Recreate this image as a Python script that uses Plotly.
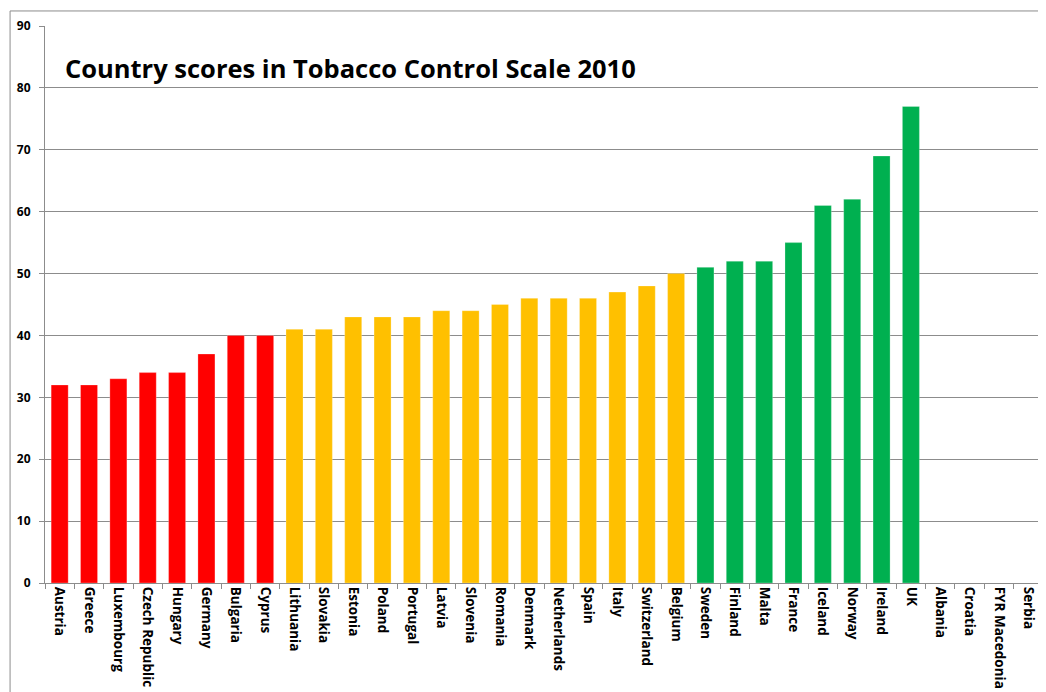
import plotly.graph_objects as go

countries = ["Austria", "Greece", "Luxembourg", "Czech Republic", "Hungary", "Germany",
             "Bulgaria", "Cyprus", "Lithuania", "Slovakia", "Estonia", "Poland", "Portugal",
             "Latvia", "Slovenia", "Romania", "Denmark", "Netherlands", "Spain", "Italy",
             "Switzerland", "Belgium", "Sweden", "Finland", "Malta", "France", "Iceland",
             "Norway", "Ireland", "UK", "Albania", "Croatia", "FYR Macedonia", "Serbia"]
scores = [32, 32, 33, 34, 34, 37, 40, 40, 41, 41, 43, 43, 43, 44, 44, 45, 46, 46, 46, 47,
          48, 50, 51, 52, 52, 55, 61, 62, 69, 77, None, None, None, None]
groups = ["low"] * 8 + ["mid"] * 14 + ["high"] * 8 + ["none"] * 4

RED = "#FF0000"
YELLOW = "#FFC000"
GREEN = "#00B050"
group_colors = {"low": RED, "mid": YELLOW, "high": GREEN, "none": "rgba(0,0,0,0)"}
GRID = "#8c8c8c"

fig = go.Figure()
fig.add_trace(go.Bar(
    x=countries, y=scores,
    marker=dict(color=[group_colors[g] for g in groups],
                line=dict(color="rgba(255,255,255,0.5)", width=0.5)),
    hoverinfo="x+y",
))

# title inside the plot area
fig.add_annotation(x=0.018, y=0.925, xref="paper", yref="paper",
                   text="<b>Country scores in Tobacco Control Scale 2010</b>",
                   showarrow=False, xanchor="left", yanchor="middle",
                   font=dict(family="Open Sans", size=25.5, color="black"))

# outer chart frame
fig.add_shape(type="rect", xref="paper", yref="paper",
              x0=-0.035, x1=1.006, y0=-0.2, y1=1.027,
              line=dict(color="#8c8c8c", width=1), fillcolor="rgba(0,0,0,0)", layer="below")

# page body keeps an 8px margin, so the figure is shifted by that much
fig.update_layout(
    width=1038, height=684,
    margin=dict(l=37, r=3, t=18, b=109),
    plot_bgcolor="white", paper_bgcolor="white",
    bargap=0.42, showlegend=False,
    font=dict(family="Open Sans", color="black"),
)
fig.update_xaxes(
    tickangle=90, tickfont=dict(size=13.5, family="Open Sans", color="black", weight="bold"),
    ticks="outside", ticklen=5, tickcolor=GRID, tickson="boundaries",
    showline=True, linecolor=GRID, showgrid=False,
)
fig.update_yaxes(
    range=[0, 90], dtick=10, tickformat="d",
    tickfont=dict(size=12, family="Open Sans", color="black", weight="bold"),
    ticks="outside", ticklen=5, tickcolor=GRID, ticklabelstandoff=6,
    showline=True, linecolor=GRID, showgrid=True, gridcolor=GRID, gridwidth=1,
    zeroline=False,
)

fig.write_html("out.html")
